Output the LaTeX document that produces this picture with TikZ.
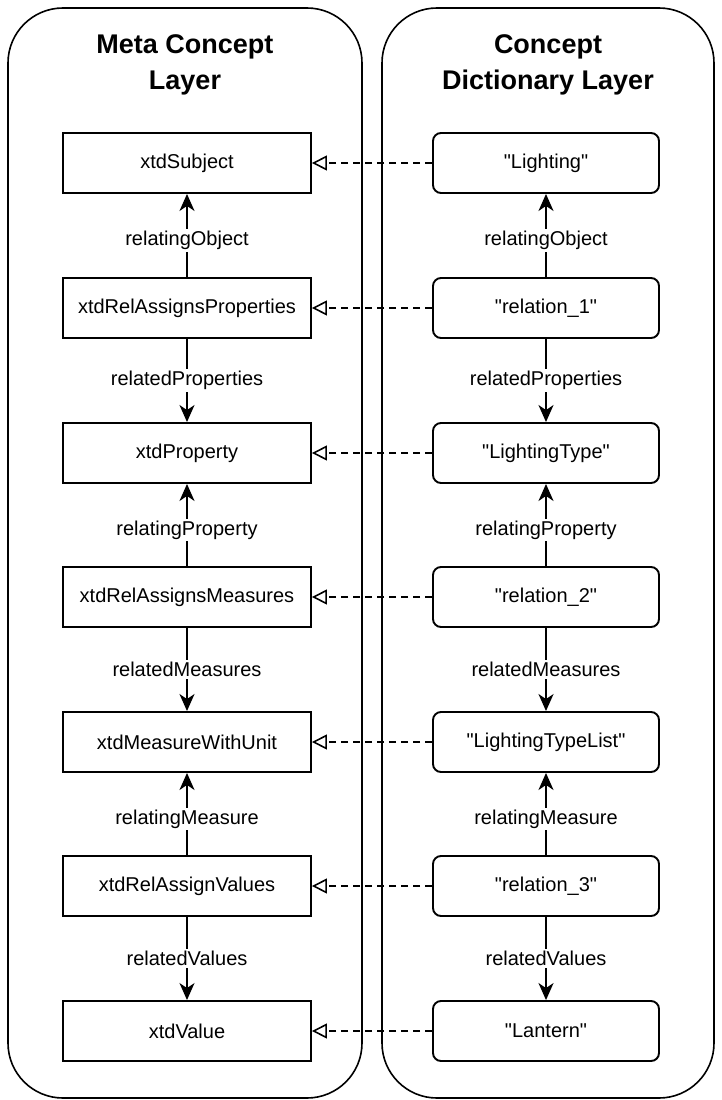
\documentclass[tikz,border=0pt]{standalone}
\usepackage{fontspec}
\setmainfont{Liberation Sans}
\usetikzlibrary{arrows.meta}
\newcommand{\qt}[1]{\textquotedbl#1\textquotedbl}
\begin{document}
\begin{tikzpicture}[x=1pt,y=-1pt,
  layer/.style={draw, line width=1.6pt, rounded corners=55pt},
  title/.style={font=\fontsize{27}{36}\selectfont\bfseries, align=center},
  metabox/.style={draw, line width=1.9pt, minimum width=248pt, minimum height=60pt,
    inner sep=0pt, font=\fontsize{20}{24}\selectfont},
  dictbox/.style={draw, line width=1.9pt, rounded corners=8pt, minimum width=226pt,
    minimum height=60pt, inner sep=0pt, font=\fontsize{20}{24}\selectfont},
  rel/.style={line width=1.9pt, -{Stealth[length=17pt,width=15pt,inset=5pt]}},
  inst/.style={line width=1.6pt, dash pattern=on 7pt off 5pt,
    -{Triangle[open,length=15pt,width=15pt,line width=1.6pt]}},
  lbl/.style={fill=white, inner sep=2pt, font=\fontsize{20}{24}\selectfont},
  uplbl/.style={lbl, yshift=-5pt}]

\useasboundingbox (0,0) rectangle (722,1100);

% the two layers
\draw[layer] (8,8) rectangle (362,1098);
\draw[layer] (382,8) rectangle (714,1098);
\node[title] (tmeta) at (185,65) {Meta Concept\\Layer};
\node[title] (tdict) at (548,65) {Concept\\Dictionary Layer};

% meta concept column
\node[metabox] (m1) at (187,163) {xtdSubject};
\node[metabox] (m2) at (187,308) {xtdRelAssignsProperties};
\node[metabox] (m3) at (187,453) {xtdProperty};
\node[metabox] (m4) at (187,597) {xtdRelAssignsMeasures};
\node[metabox] (m5) at (187,742) {xtdMeasureWithUnit};
\node[metabox] (m6) at (187,886) {xtdRelAssignValues};
\node[metabox] (m7) at (187,1031) {xtdValue};

% dictionary column
\node[dictbox] (d1) at (546,163) {\qt{Lighting}};
\node[dictbox] (d2) at (546,308) {\qt{relation\_1}};
\node[dictbox] (d3) at (546,453) {\qt{LightingType}};
\node[dictbox] (d4) at (546,597) {\qt{relation\_2}};
\node[dictbox] (d5) at (546,742) {\qt{LightingTypeList}};
\node[dictbox] (d6) at (546,886) {\qt{relation\_3}};
\node[dictbox] (d7) at (546,1031) {\qt{Lantern}};

% relations within each column
\foreach \c in {m,d}{
  \draw[rel] (\c2) -- node[uplbl] {relatingObject} (\c1);
  \draw[rel] (\c2) -- node[lbl] {relatedProperties} (\c3);
  \draw[rel] (\c4) -- node[uplbl] {relatingProperty} (\c3);
  \draw[rel] (\c4) -- node[lbl] {relatedMeasures} (\c5);
  \draw[rel] (\c6) -- node[uplbl] {relatingMeasure} (\c5);
  \draw[rel] (\c6) -- node[lbl] {relatedValues} (\c7);
}

% instance-of links between the layers
\foreach \i in {1,...,7}{
  \draw[inst] (d\i) -- (m\i);
}
\end{tikzpicture}
\end{document}
